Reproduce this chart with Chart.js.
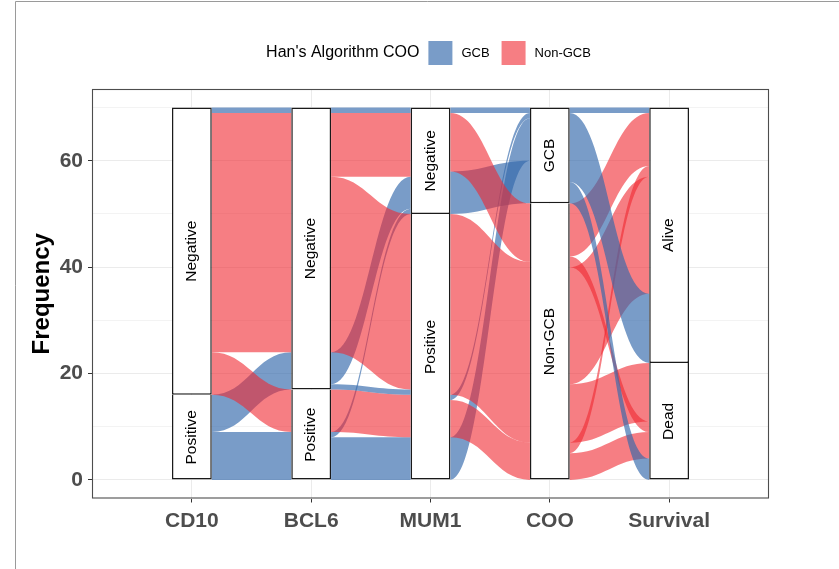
<!DOCTYPE html>
<html><head><meta charset="utf-8">
<script src="https://cdn.jsdelivr.net/npm/chart.js@4.4.0/dist/chart.umd.min.js"></script>
<style>
html,body{margin:0;padding:0;background:#fff;}
#wrap{width:839px;height:569px;position:relative;}
canvas{display:block;}
</style>
</head><body>
<div id="wrap"><canvas id="c" width="839" height="569"></canvas></div>
<script>
// ---------------- data ----------------
const axisNames = ['CD10', 'BCL6', 'MUM1', 'COO', 'Survival'];
const lowerStrata = ['Positive', 'Positive', 'Positive', 'Non-GCB', 'Dead'];
const upperStrata = ['Negative', 'Negative', 'Negative', 'GCB', 'Alive'];
const lowerCounts = [16, 17, 50, 52, 22];
const upperCounts = [54, 53, 20, 18, 48];
const fillGroups = ['GCB', 'Non-GCB'];
const yTickValues = [0, 10, 20, 30, 40, 50, 60, 70];

// flows between adjacent axes: [fromStratum(0=lower,1=upper), toStratum, fillGroup, count]
// listed bottom-up as they leave the left axis; orderAt* lists them bottom-up at the right axis
const flowsCD10toBCL6 = [
  [0, 0, 'GCB', 9],
  [0, 1, 'GCB', 7],
  [1, 0, 'Non-GCB', 8],
  [1, 1, 'Non-GCB', 45],
  [1, 1, 'GCB', 1]
];
const orderAtBCL6 = [0, 2, 1, 3, 4];

const flowsBCL6toMUM1 = [
  [0, 0, 'GCB', 8],
  [0, 1, 'GCB', 1],
  [0, 0, 'Non-GCB', 8],
  [1, 0, 'GCB', 1],
  [1, 1, 'GCB', 6],
  [1, 0, 'Non-GCB', 33],
  [1, 1, 'Non-GCB', 12],
  [1, 1, 'GCB', 1]
];
const orderAtMUM1 = [0, 2, 3, 5, 1, 4, 6, 7];

const flowsMUM1toCOO = [
  [0, 1, 'GCB', 8],
  [0, 0, 'Non-GCB', 7],
  [0, 1, 'GCB', 1],
  [0, 0, 'Non-GCB', 34],
  [1, 1, 'GCB', 8],
  [1, 0, 'Non-GCB', 11],
  [1, 1, 'GCB', 1]
];
const orderAtCOO = [1, 3, 5, 4, 0, 2, 6];

const flowsCOOtoSurvival = [
  [0, 0, 'Non-GCB', 5],
  [0, 1, 'Non-GCB', 2],
  [0, 0, 'Non-GCB', 11],
  [0, 1, 'Non-GCB', 22],
  [0, 0, 'Non-GCB', 2],
  [0, 1, 'Non-GCB', 10],
  [1, 0, 'GCB', 4],
  [1, 1, 'GCB', 13],
  [1, 1, 'GCB', 1]
];
const orderAtSurvival = [6, 0, 4, 2, 7, 3, 1, 5, 8];

// ---------------- styling ----------------
const FONT = '"Liberation Sans", Arial, Helvetica, sans-serif';
const fillColors = { 'GCB': 'rgba(52,104,172,0.66)', 'Non-GCB': 'rgba(240,40,48,0.6)' };
const stratumWidth = 1 / 3;
const knot = 0.45;

const gapFlows = [flowsCD10toBCL6, flowsBCL6toMUM1, flowsMUM1toCOO, flowsCOOtoSurvival];
const gapOrders = [orderAtBCL6, orderAtMUM1, orderAtCOO, orderAtSurvival];

function buildRibbons() {
  const out = [];
  gapFlows.forEach((flows, g) => {
    let acc = 0;
    const left = flows.map(f => { const lo = acc; acc += f[3]; return lo; });
    const right = new Array(flows.length);
    acc = 0;
    gapOrders[g].forEach(k => { right[k] = acc; acc += flows[k][3]; });
    flows.forEach((f, k) => out.push({ gap: g, yL: left[k], yR: right[k], n: f[3], fill: f[2] }));
  });
  return out;
}
const ribbons = buildRibbons();

const flowPlugin = {
  id: 'flows',
  beforeDatasetsDraw(chart) {
    const { ctx, chartArea, scales } = chart;
    const x = scales.x, y = scales.y;
    const halfW = (x.getPixelForValue(2) - x.getPixelForValue(1)) * stratumWidth / 2;
    ctx.save();
    ctx.beginPath();
    ctx.rect(chartArea.left, chartArea.top, chartArea.right - chartArea.left, chartArea.bottom - chartArea.top);
    ctx.clip();
    ribbons.forEach(r => {
      const xa = x.getPixelForValue(r.gap + 1) + halfW;
      const xb = x.getPixelForValue(r.gap + 2) - halfW;
      const c1 = xa + (xb - xa) * knot, c2 = xb - (xb - xa) * knot;
      const aT = y.getPixelForValue(r.yL + r.n), aB = y.getPixelForValue(r.yL);
      const bT = y.getPixelForValue(r.yR + r.n), bB = y.getPixelForValue(r.yR);
      ctx.beginPath();
      ctx.moveTo(xa, aT);
      ctx.bezierCurveTo(c1, aT, c2, bT, xb, bT);
      ctx.lineTo(xb, bB);
      ctx.bezierCurveTo(c2, bB, c1, aB, xa, aB);
      ctx.closePath();
      ctx.fillStyle = fillColors[r.fill];
      ctx.fill();
    });
    ctx.restore();
  },
  afterDatasetsDraw(chart) {
    const { ctx, scales } = chart;
    const x = scales.x, y = scales.y;
    ctx.save();
    ctx.fillStyle = '#000';
    ctx.font = '15.5px ' + FONT;
    ctx.textAlign = 'center';
    ctx.textBaseline = 'middle';
    axisNames.forEach((name, i) => {
      const px = x.getPixelForValue(i + 1);
      const parts = [
        [lowerStrata[i], lowerCounts[i] / 2],
        [upperStrata[i], lowerCounts[i] + upperCounts[i] / 2]
      ];
      parts.forEach(([txt, v]) => {
        ctx.save();
        ctx.translate(px, y.getPixelForValue(v));
        ctx.rotate(-Math.PI / 2);
        ctx.fillText(txt, 0, 0);
        ctx.restore();
      });
    });
    ctx.restore();
  },
  afterDraw(chart) {
    const { ctx, chartArea } = chart;
    ctx.save();
    // panel border
    ctx.strokeStyle = '#4d4d4d';
    ctx.lineWidth = 1.1;
    ctx.strokeRect(chartArea.left + 0.5, chartArea.top + 0.5, chartArea.right - chartArea.left - 1, chartArea.bottom - chartArea.top - 1);
    // figure frame (left and top edges of the captured figure)
    ctx.strokeStyle = '#9a9a9a';
    ctx.lineWidth = 1;
    ctx.beginPath();
    ctx.moveTo(15.5, chart.height);
    ctx.lineTo(15.5, 1.5);
    ctx.lineTo(chart.width, 1.5);
    ctx.stroke();
    // legend
    const title = "Han's Algorithm COO";
    ctx.textBaseline = 'middle';
    ctx.font = '16px ' + FONT;
    const wT = ctx.measureText(title).width;
    ctx.font = '13px ' + FONT;
    const wG = ctx.measureText(fillGroups[0]).width;
    const wN = ctx.measureText(fillGroups[1]).width;
    const box = 24, g1 = 9, g2 = 9, g3 = 12;
    const total = wT + g1 + box + g2 + wG + g3 + box + g2 + wN;
    let lx = (chartArea.left + chartArea.right) / 2 - total / 2 - 2;
    const ly = 53;
    ctx.fillStyle = '#000';
    ctx.font = '16px ' + FONT;
    ctx.textAlign = 'left';
    ctx.fillText(title, lx, ly);
    lx += wT + g1;
    ctx.font = '13px ' + FONT;
    [[fillGroups[0], wG], [fillGroups[1], wN]].forEach(([lab, w], k) => {
      ctx.fillStyle = '#fff';
      ctx.fillRect(lx, ly - box / 2, box, box);
      ctx.fillStyle = fillColors[lab];
      ctx.fillRect(lx, ly - box / 2, box, box);
      lx += box + g2;
      ctx.fillStyle = '#000';
      ctx.fillText(lab, lx, ly);
      lx += w + g3;
    });
    ctx.restore();
  }
};

const strataStyle = {
  backgroundColor: '#ffffff',
  borderColor: '#1a1a1a',
  borderWidth: 1.5,
  barPercentage: stratumWidth,
  categoryPercentage: 1,
  grouped: false
};

new Chart(document.getElementById('c'), {
  type: 'bar',
  data: {
    datasets: [
      Object.assign({ label: 'lower', borderSkipped: 'top', data: axisNames.map((n, i) => ({ x: i + 1, y: [0, lowerCounts[i]] })) }, strataStyle),
      Object.assign({ label: 'upper', borderSkipped: false, data: axisNames.map((n, i) => ({ x: i + 1, y: [lowerCounts[i], lowerCounts[i] + upperCounts[i]] })) }, strataStyle)
    ]
  },
  options: {
    responsive: false,
    animation: false,
    devicePixelRatio: 1,
    layout: { padding: { left: 0, top: 89, right: 70, bottom: 0 } },
    plugins: { legend: { display: false }, tooltip: { enabled: false } },
    scales: {
      x: {
        type: 'linear',
        offset: false,
        min: 0.163, max: 5.837,
        afterBuildTicks: s => { s.ticks = axisNames.map((n, i) => ({ value: i + 1 })); },
        afterFit: s => { s.height = 70.5; },
        ticks: {
          callback: v => axisNames[v - 1],
          font: { family: FONT, size: 21, weight: 'bold' },
          color: '#4d4d4d',
          padding: 6,
          maxRotation: 0
        },
        grid: { offset: false, color: '#ebebeb', lineWidth: 1, tickLength: 4, tickColor: '#333333' },
        border: { display: false }
      },
      y: {
        type: 'linear',
        min: -3.5, max: 73.5,
        afterBuildTicks: s => { s.ticks = yTickValues.map(v => ({ value: v })); },
        afterFit: s => { s.width = 92; },
        ticks: {
          callback: v => (v % 20 === 0 ? String(v) : ''),
          font: { family: FONT, size: 21, weight: 'bold' },
          color: '#4d4d4d',
          padding: 5
        },
        grid: {
          color: c => (c.tick && c.tick.value % 20 === 0 ? '#ebebeb' : '#f3f3f3'),
          lineWidth: 1,
          tickLength: 4,
          tickColor: c => (c.tick && c.tick.value % 20 === 0 ? '#333333' : 'rgba(0,0,0,0)')
        },
        border: { display: false },
        title: {
          display: true,
          text: 'Frequency',
          font: { family: FONT, size: 24, weight: 'bold' },
          color: '#000',
          padding: { top: 28, bottom: 0 }
        }
      }
    }
  },
  plugins: [flowPlugin]
});
</script>
</body></html>
